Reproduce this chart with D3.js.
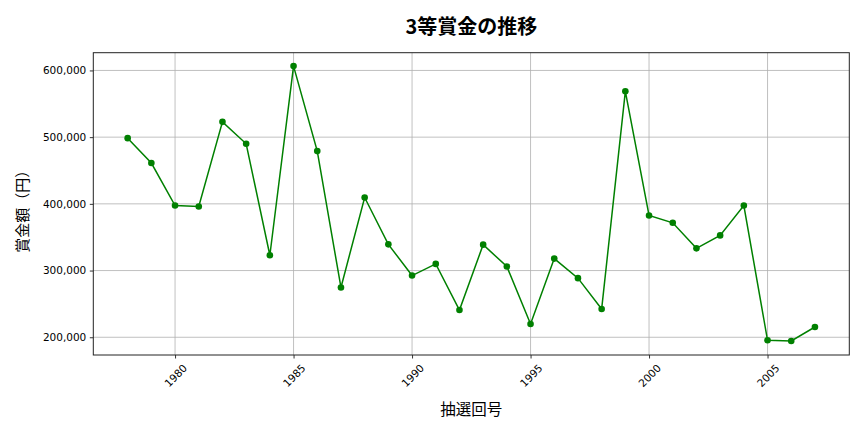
<!DOCTYPE html>
<html><head><meta charset="utf-8">
<script src="https://cdn.jsdelivr.net/npm/d3@7"></script>
<style>
html,body{margin:0;padding:0;background:#fff;}
svg{display:block;}
</style></head>
<body>
<svg id="chart" width="864" height="432"></svg>
<script>
const years = [1978,1979,1980,1981,1982,1983,1984,1985,1986,1987,1988,1989,1990,1991,1992,1993,1994,1995,1996,1997,1998,1999,2000,2001,2002,2003,2004,2005,2006,2007];
const prizes = [498500,461200,397500,396000,522900,490000,322900,606500,479100,274600,409500,339300,292500,310000,240800,338800,306000,219900,317900,288600,242300,568700,382600,371600,333300,352700,397500,195500,194500,215400];
const xTicks = [1980,1985,1990,1995,2000,2005];
const yTicks = [200000,300000,400000,500000,600000];
const title = "3等賞金の推移";
const xLabel = "抽選回号";
const yLabel = "賞金額（円）";

const svg = d3.select("#chart");
const L = 93.3, R = 849.3, T = 52.7, B = 355;
const x = d3.scaleLinear().domain([1976.55, 2008.45]).range([L, R]);
const y = d3.scaleLinear().domain([173400, 626600]).range([B, T]);
const tickFont = "'DejaVu Sans', sans-serif";
const cjk = "'Noto Sans CJK JP', 'Noto Sans', sans-serif";

// grid
const g = svg.append("g");
g.selectAll(".gx").data(xTicks).enter().append("line")
  .attr("x1", d => x(d)).attr("x2", d => x(d)).attr("y1", T).attr("y2", B)
  .attr("stroke", "#b0b0b0").attr("stroke-width", 0.8);
g.selectAll(".gy").data(yTicks).enter().append("line")
  .attr("x1", L).attr("x2", R).attr("y1", d => y(d)).attr("y2", d => y(d))
  .attr("stroke", "#b0b0b0").attr("stroke-width", 0.8);

// axes
const xAxis = d3.axisBottom(x).tickValues(xTicks).tickSize(3.5).tickPadding(3.5).tickFormat(d3.format("d"));
const xa = svg.append("g").attr("transform", `translate(0,${B})`).call(xAxis);
xa.select(".domain").remove();
xa.selectAll("line").attr("stroke", "#000").attr("stroke-width", 0.8);
xa.selectAll("text")
  .attr("font-family", tickFont).attr("font-size", 10.5).attr("fill", "#000")
  .attr("text-anchor", "middle").attr("dy", null).attr("y", null)
  .attr("dominant-baseline", "central")
  .attr("transform", "translate(0,20.5) rotate(-45)");

const yAxis = d3.axisLeft(y).tickValues(yTicks).tickSize(3.5).tickPadding(3.5).tickFormat(d3.format(","));
const ya = svg.append("g").attr("transform", `translate(${L},0)`).call(yAxis);
ya.select(".domain").remove();
ya.selectAll("line").attr("stroke", "#000").attr("stroke-width", 0.8);
ya.selectAll("text").attr("font-family", tickFont).attr("font-size", 10.5).attr("fill", "#000");

// frame
svg.append("rect").attr("x", L).attr("y", T).attr("width", R - L).attr("height", B - T)
  .attr("fill", "none").attr("stroke", "#222").attr("stroke-width", 1);

// line + markers
const line = d3.line().x((d, i) => x(years[i])).y(d => y(d));
svg.append("path").datum(prizes).attr("d", line)
  .attr("fill", "none").attr("stroke", "#008000").attr("stroke-width", 1.5);
svg.selectAll(".pt").data(prizes).enter().append("circle")
  .attr("cx", (d, i) => x(years[i])).attr("cy", d => y(d)).attr("r", 3.3)
  .attr("fill", "#008000");

// labels
svg.append("text").attr("x", (L + R) / 2).attr("y", 25)
  .attr("text-anchor", "middle").attr("dominant-baseline", "central")
  .attr("font-family", cjk).attr("font-weight", "bold").attr("font-size", 20)
  .text(title);
svg.append("text").attr("x", (L + R) / 2).attr("y", 408)
  .attr("text-anchor", "middle").attr("dominant-baseline", "central")
  .attr("font-family", cjk).attr("font-size", 15.5)
  .text(xLabel);
svg.append("text").attr("transform", `translate(21,${(T + B) / 2 + 4}) rotate(-90)`)
  .attr("text-anchor", "middle").attr("dominant-baseline", "central")
  .attr("font-family", cjk).attr("font-size", 15)
  .text(yLabel);
</script>
</body></html>
